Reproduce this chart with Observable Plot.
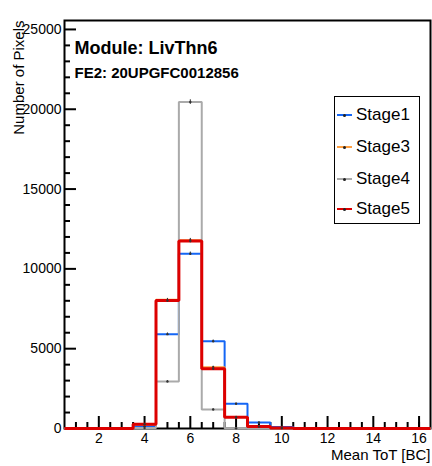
<!DOCTYPE html>
<html>
<head>
<meta charset="utf-8">
<script src="https://cdn.jsdelivr.net/npm/d3@7"></script>
<script src="https://cdn.jsdelivr.net/npm/@observablehq/plot@0.6"></script>
<style>
  body { margin: 0; background: #fff; overflow: hidden; }
  #wrap { position: relative; width: 432px; height: 466px; font-family: "Liberation Sans", Arial, Helvetica, sans-serif; }
  #legend { position: absolute; left: 334px; top: 96px; width: 84px; height: 126px; border: 1.5px solid #000; background: #fff; box-sizing: content-box; }
  .entry { position: absolute; left: 0; height: 20px; display: flex; align-items: center; font-size: 17px; color: #000; }
  .sample { position: relative; width: 15px; margin-left: 2px; margin-right: 4px; }
  .sample .ln { height: 2px; width: 15px; }
  .sample .mk { position: absolute; left: 6px; top: -0.5px; width: 3px; height: 3px; background: #222; border-radius: 50%; }
</style>
</head>
<body>
<div id="wrap"><div id="legend"></div></div>
<script>
// Bin centers (bin width 1, edges at n-0.5 .. n+0.5)
const binCenters = [1, 2, 3, 4, 5, 6, 7, 8, 9, 10, 11, 12, 13, 14, 15, 16];
const seriesNames = ["Stage1", "Stage3", "Stage4", "Stage5"];
const seriesColors = ["#1466f5", "#ff9f40", "#aaaaaa", "#dd0000"];
const seriesWidths = [2, 2, 2, 3];
const stage1 = [0, 0, 0, 140, 5910, 10950, 5470, 1550, 376, 100, 30, 0, 0, 0, 0, 0];
const stage3 = [0, 0, 0, 250, 8060, 11800, 3840, 720, 130, 30, 0, 0, 0, 0, 0, 0];
const stage4 = [0, 0, 0, 30, 2945, 20450, 1190, 10, 0, 0, 0, 0, 0, 0, 0, 0];
const stage5 = [0, 0, 0, 270, 8020, 11750, 3740, 708, 125, 30, 0, 0, 0, 0, 0, 0];
const seriesValues = [stage1, stage3, stage4, stage5];

const xMajor = [2, 4, 6, 8, 10, 12, 14, 16];
const xMinor = [1, 1.5, 2.5, 3, 3.5, 4.5, 5, 5.5, 6.5, 7, 7.5, 8.5, 9, 9.5, 10.5, 11, 11.5, 12.5, 13, 13.5, 14.5, 15, 15.5, 16];
const yMajor = [0, 5000, 10000, 15000, 20000, 25000];
const yMinor = [1000, 2000, 3000, 4000, 6000, 7000, 8000, 9000, 11000, 12000, 13000, 14000, 16000, 17000, 18000, 19000, 21000, 22000, 23000, 24000];
const xDomain = [0.5, 16.5];
const yDomain = [0, 25560];

const titleText = "Module: LivThn6";
const subText = "FE2: 20UPGFC0012856";
const xLabel = "Mean ToT [BC]";
const yLabel = "Number of Pixels";

// Step outlines built from bin values
const steps = [];
const points = [];
seriesNames.forEach((name, si) => {
  seriesValues[si].forEach((v, i) => {
    const c = binCenters[i];
    steps.push({series: name, x: c - 0.5, y: v});
    steps.push({series: name, x: c + 0.5, y: v});
    if (v > 0) points.push({series: name, x: c, y: v, err: Math.sqrt(v)});
  });
});

const W = 432, H = 466, mL = 64, mR = 2, mT = 20, mB = 38;
const innerW = W - mL - mR, innerH = H - mT - mB;
const font = '"Liberation Sans", Arial, Helvetica, sans-serif';

// Tick lengths (px) expressed in each scale's units
const xPerPx = (xDomain[1] - xDomain[0]) / innerW;
const yPerPx = (yDomain[1] - yDomain[0]) / innerH;
const tickStyle = {stroke: "#000", strokeWidth: 2};
const tickMarks = [
  Plot.ruleX(xMajor, {x: d => d, y1: yDomain[0], y2: yDomain[0] + 12 * yPerPx, ...tickStyle}),
  Plot.ruleX(xMinor, {x: d => d, y1: yDomain[0], y2: yDomain[0] + 6 * yPerPx, ...tickStyle}),
  Plot.ruleY(yMajor, {y: d => d, x1: xDomain[0], x2: xDomain[0] + 12 * xPerPx, ...tickStyle}),
  Plot.ruleY(yMinor, {y: d => d, x1: xDomain[0], x2: xDomain[0] + 6 * xPerPx, ...tickStyle})
];

const marks = [];
seriesNames.forEach((name, si) => {
  marks.push(Plot.line(steps.filter(d => d.series === name), {
    x: "x", y: "y", stroke: seriesColors[si], strokeWidth: seriesWidths[si], strokeLinejoin: "miter", strokeLinecap: "butt"
  }));
  const pts = points.filter(d => d.series === name);
  marks.push(Plot.ruleX(pts, {x: "x", y1: d => d.y - d.err, y2: d => d.y + d.err, stroke: "#333", strokeWidth: 1}));
  marks.push(Plot.dot(pts, {x: "x", y: "y", r: 1.2, fill: "#333", stroke: "none"}));
});

const plot = Plot.plot({
  width: W, height: H,
  marginLeft: mL, marginRight: mR, marginTop: mT, marginBottom: mB,
  style: {fontFamily: font, background: "#fff", color: "#000", overflow: "visible"},
  x: {domain: xDomain, axis: null},
  y: {domain: yDomain, axis: null},
  marks: [
    Plot.axisX({ticks: xMajor, tickSize: 0, tickPadding: 5, tickFormat: d => String(d), fontSize: 14, label: null, anchor: "bottom"}),
    Plot.axisY({ticks: yMajor, tickSize: 0, tickPadding: 3, tickFormat: d => String(d), fontSize: 14, label: null, anchor: "left"}),
    Plot.frame({stroke: "#000", strokeWidth: 2}),
    ...tickMarks,
    ...marks,
    Plot.text([titleText], {frameAnchor: "top-left", dx: 10, dy: 20.5, text: d => d, fontSize: 18, fontWeight: "bold", textAnchor: "start", fill: "#000"}),
    Plot.text([subText], {frameAnchor: "top-left", dx: 10, dy: 46.5, text: d => d, fontSize: 15, fontWeight: "bold", textAnchor: "start", fill: "#000"}),
    Plot.text([xLabel], {frameAnchor: "bottom-right", dx: 0, dy: 31, text: d => d, fontSize: 15, textAnchor: "end", fill: "#000"}),
    Plot.text([yLabel], {frameAnchor: "top-left", dx: -51, dy: 0, text: d => d, rotate: -90, fontSize: 15, textAnchor: "end", fill: "#000"})
  ]
});
document.getElementById("wrap").prepend(plot);

// Legend
const legend = document.getElementById("legend");
const entryTops = [8, 40, 72, 102];
seriesNames.forEach((name, si) => {
  const e = document.createElement("div");
  e.className = "entry";
  e.style.top = entryTops[si] + "px";
  const s = document.createElement("div");
  s.className = "sample";
  const ln = document.createElement("div");
  ln.className = "ln";
  ln.style.background = seriesColors[si];
  const mk = document.createElement("div");
  mk.className = "mk";
  s.appendChild(ln); s.appendChild(mk);
  const t = document.createElement("span");
  t.textContent = name;
  e.appendChild(s); e.appendChild(t);
  legend.appendChild(e);
});
</script>
</body>
</html>
